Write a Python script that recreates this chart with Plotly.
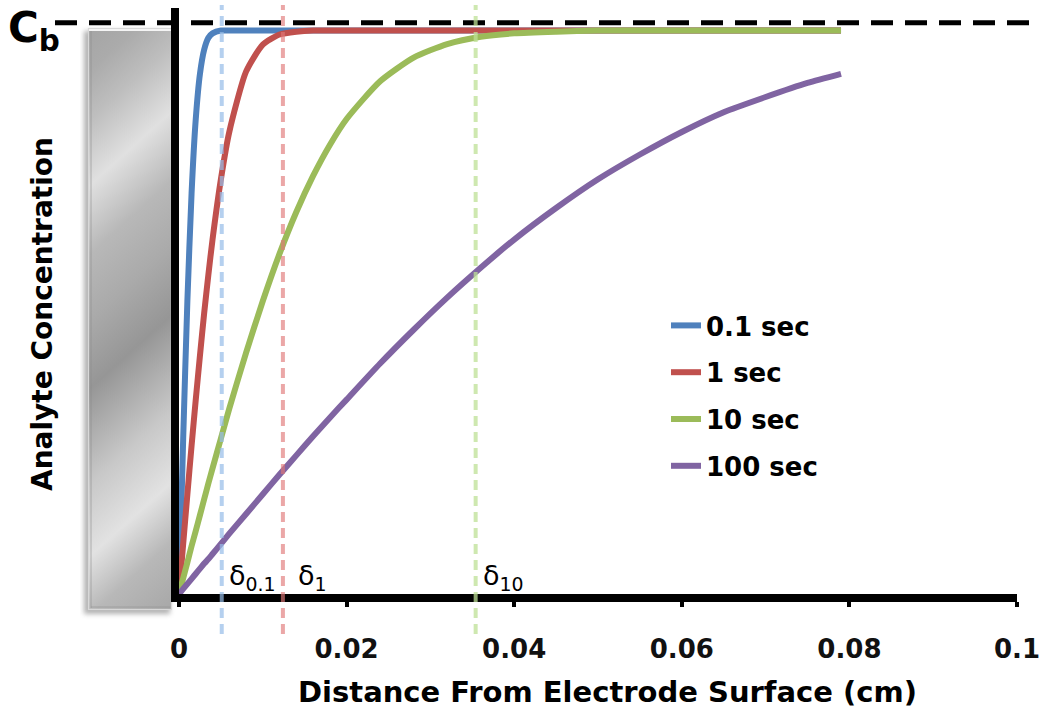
import base64
import plotly.graph_objects as go

# ---- data ----
distance_cm = [0, 0.0005, 0.001, 0.0015, 0.002, 0.0025, 0.003, 0.0035, 0.004, 0.005, 0.006, 0.008,
               0.010, 0.012, 0.014, 0.016, 0.018, 0.020, 0.024, 0.028, 0.032, 0.036, 0.040,
               0.045, 0.050, 0.055, 0.060, 0.065, 0.070, 0.075, 0.079]

conc_0p1s = [0, 0.276, 0.520, 0.711, 0.843, 0.923, 0.966, 0.987, 0.995, 1.0, 1.0, 1.0,
             1.0, 1.0, 1.0, 1.0, 1.0, 1.0, 1.0, 1.0, 1.0, 1.0, 1.0,
             1.0, 1.0, 1.0, 1.0, 1.0, 1.0, 1.0, 1.0]
conc_1s = [0, 0.089, 0.177, 0.263, 0.345, 0.423, 0.498, 0.566, 0.629, 0.736, 0.820, 0.927,
           0.975, 0.993, 0.998, 1.0, 1.0, 1.0, 1.0, 1.0, 1.0, 1.0, 1.0,
           1.0, 1.0, 1.0, 1.0, 1.0, 1.0, 1.0, 1.0]
conc_10s = [0, 0.028, 0.056, 0.085, 0.112, 0.140, 0.168, 0.196, 0.223, 0.276, 0.329, 0.428,
            0.520, 0.604, 0.678, 0.742, 0.797, 0.843, 0.910, 0.952, 0.976, 0.989, 0.995,
            0.998, 1.0, 1.0, 1.0, 1.0, 1.0, 1.0, 1.0]
conc_100s = [0, 0.009, 0.018, 0.027, 0.036, 0.045, 0.054, 0.062, 0.071, 0.089, 0.107, 0.142,
             0.177, 0.212, 0.246, 0.280, 0.313, 0.345, 0.409, 0.469, 0.526, 0.579, 0.629,
             0.685, 0.736, 0.780, 0.820, 0.855, 0.882, 0.907, 0.923]

series_names = ["0.1 sec", "1 sec", "10 sec", "100 sec"]
series_values = [conc_0p1s, conc_1s, conc_10s, conc_100s]
series_colors = ["#4F81BD", "#C0504D", "#9BBB59", "#8064A2"]

delta_positions = [0.0051, 0.0124, 0.0354]
delta_labels = ["δ<sub>0.1</sub>", "δ<sub>1</sub>", "δ<sub>10</sub>"]
delta_colors = ["rgba(150,188,232,0.7)", "rgba(225,120,120,0.65)", "rgba(190,224,150,0.75)"]
delta_label_offsets = [0.0006, 0.0016, 0.0006]

bulk_conc = 1.014
x_ticks = [0, 0.02, 0.04, 0.06, 0.08, 0.1]
x_tick_labels = ["0", "0.02", "0.04", "0.06", "0.08", "0.1"]

# ---- figure ----
W, H = 1044, 721
L, R, T, B = 179, 27, 8, 127
pw, ph = W - L - R, H - T - B

def px_x(p):
    return (p - L) / pw

def px_y(p):
    return (H - B - p) / ph

fig = go.Figure()
for name, vals, col in zip(series_names, series_values, series_colors):
    fig.add_trace(go.Scatter(
        x=distance_cm, y=vals, mode="lines", name=name, legendgroup=name,
        line=dict(color=col, width=6, shape="spline", smoothing=0.6),
    ))

# electrode picture (gradient block with diagonal sheen)
svg = """<svg xmlns='http://www.w3.org/2000/svg' width='100' height='600' viewBox='0 0 100 600' preserveAspectRatio='none'>
<defs>
<linearGradient id='g' gradientUnits='userSpaceOnUse' x1='6.6' y1='7.4' x2='333' y2='370'>
<stop offset='0' stop-color='#a4a4a4'/>
<stop offset='0.07' stop-color='#ababab'/>
<stop offset='0.145' stop-color='#bebebe'/>
<stop offset='0.245' stop-color='#e0e0e0'/>
<stop offset='0.35' stop-color='#b8b8b8'/>
<stop offset='0.45' stop-color='#aaaaaa'/>
<stop offset='0.555' stop-color='#969696'/>
<stop offset='0.70' stop-color='#c8c8c8'/>
<stop offset='0.81' stop-color='#e2e2e2'/>
<stop offset='0.90' stop-color='#b8b8b8'/>
<stop offset='1' stop-color='#a8a8a8'/>
</linearGradient>
<filter id='f' x='-20%' y='-5%' width='140%' height='110%'><feGaussianBlur stdDeviation='2.5'/></filter>
</defs>
<rect x='4' y='11' width='86' height='583' fill='#666' opacity='0.5' filter='url(#f)'/>
<rect x='8' y='8' width='84' height='582' fill='url(#g)'/>
<rect x='8.5' y='8.5' width='83' height='581' fill='none' stroke='#d8d8d8' stroke-width='1.2'/>
<line x1='9' y1='10' x2='91' y2='10' stroke='#f4f4f4' stroke-width='2'/>
<line x1='11' y1='11' x2='11' y2='588' stroke='#8c8c8c' stroke-width='1' opacity='0.6'/>
<line x1='11' y1='587' x2='90' y2='587' stroke='#909090' stroke-width='1' opacity='0.6'/>
</svg>"""
src = "data:image/svg+xml;base64," + base64.b64encode(svg.encode()).decode()
fig.add_layout_image(dict(
    source=src, xref="paper", yref="paper",
    x=px_x(80), y=px_y(20), sizex=100 / pw, sizey=600 / ph,
    xanchor="left", yanchor="top", sizing="stretch", layer="below",
))

shapes = []
# bulk concentration dashed line
shapes.append(dict(type="line", xref="paper", yref="y", x0=px_x(55), x1=px_x(1032),
                   y0=bulk_conc, y1=bulk_conc,
                   line=dict(color="black", width=5, dash="22px,12px"), layer="above"))
# diffusion layer thickness markers
for xp, col in zip(delta_positions, delta_colors):
    shapes.append(dict(type="line", xref="x", yref="paper", x0=xp, x1=xp,
                       y0=px_y(634), y1=px_y(5),
                       line=dict(color=col, width=4, dash="10px,6px"), layer="above"))
fig.update_layout(shapes=shapes)

annotations = []
for xp, lab, off in zip(delta_positions, delta_labels, delta_label_offsets):
    annotations.append(dict(x=xp + off, y=0.0, xref="x", yref="y", text=lab,
                            showarrow=False, xanchor="left", yanchor="bottom", yshift=-3,
                            font=dict(family="DejaVu Sans", size=27, color="black")))
annotations.append(dict(x=px_x(6), y=px_y(30), xref="paper", yref="paper",
                        text="<b>C<sub>b</sub></b>", showarrow=False,
                        xanchor="left", yanchor="middle",
                        font=dict(family="DejaVu Sans", size=42, color="black")))
annotations.append(dict(x=px_x(42), y=px_y(314), xref="paper", yref="paper",
                        text="<b>Analyte Concentration</b>", showarrow=False, textangle=-90,
                        xanchor="center", yanchor="middle",
                        font=dict(family="DejaVu Sans", size=28, color="black")))
annotations.append(dict(x=px_x(607), y=px_y(692), xref="paper", yref="paper",
                        text="<b>Distance From Electrode Surface (cm)</b>", showarrow=False,
                        xanchor="center", yanchor="middle",
                        font=dict(family="DejaVu Sans", size=29, color="black")))
fig.update_layout(annotations=annotations)

fig.update_xaxes(
    range=[0, 0.1], showgrid=False, zeroline=False, automargin=False,
    showline=True, linecolor="black", linewidth=8,
    ticks="outside", ticklen=5, tickwidth=4, tickcolor="black",
    tickvals=x_ticks, ticktext=x_tick_labels, ticklabelstandoff=20,
    tickfont=dict(family="DejaVu Sans", size=26, color="#111111", weight="bold"),
)
fig.update_yaxes(
    range=[0, 1.04], showgrid=False, zeroline=False, automargin=False,
    showline=True, linecolor="black", linewidth=8,
    showticklabels=False, ticks="",
)

fig.update_layout(
    width=W, height=H,
    margin=dict(l=L, r=R, t=T, b=B, pad=0),
    paper_bgcolor="white", plot_bgcolor="white",
    showlegend=True,
    legend=dict(
        x=px_x(666), y=px_y(302), xanchor="left", yanchor="top",
        bgcolor="rgba(0,0,0,0)", borderwidth=0, tracegroupgap=10,
        font=dict(family="DejaVu Sans", size=26, color="black", weight="bold"),
        itemwidth=30,
    ),
)

fig.write_html("out.html", config={"displayModeBar": False},
               post_script="document.body.style.margin='0';")
